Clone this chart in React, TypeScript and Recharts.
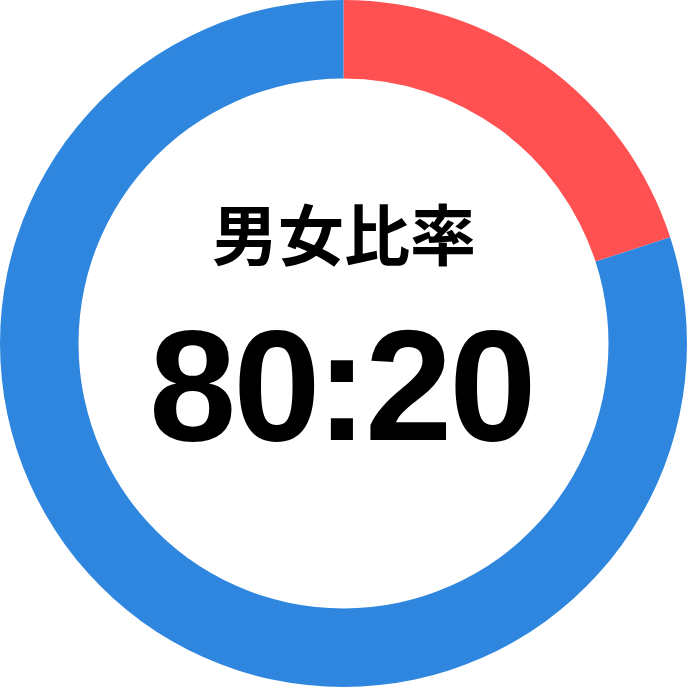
import { PieChart, Pie, Cell } from "recharts"

const labels = ["女性", "男性"]
const values = [20, 80]
const colors = ["#ff5052", "#2e86de"]
const title = "男女比率"
const ratioParts = ["80", ":", "20"]

const data = labels.map((name, i) => ({ name, value: values[i] }))

export default function App() {
  return (
    <div style={{ position: "absolute", left: 0, top: 0, width: 687, height: 687, background: "#fff" }}>
      <PieChart width={687} height={687} margin={{ top: 0, right: 0, bottom: 0, left: 0 }}>
        <Pie
          data={data}
          dataKey="value"
          cx={343.5}
          cy={343.5}
          outerRadius={343.5}
          innerRadius={265}
          startAngle={90}
          endAngle={-270}
          stroke="none"
          isAnimationActive={false}
        >
          {data.map((entry, index) => (
            <Cell key={`cell-${index}`} fill={colors[index]} />
          ))}
        </Pie>
      </PieChart>
      <svg width={687} height={687} style={{ position: "absolute", left: 0, top: 0, pointerEvents: "none" }}>
        <text
          x={344}
          y={260}
          textAnchor="middle"
          fontFamily="'Noto Sans CJK JP'"
          fontWeight={700}
          fontSize={66}
          fill="#000"
        >
          {title}
        </text>
        <text
          x={149}
          y={440}
          fontFamily="'Liberation Sans', Arial, sans-serif"
          fontWeight={700}
          fontSize={157}
          letterSpacing={-3}
          fill="#000"
        >
          <tspan>{ratioParts[0]}</tspan>
          <tspan dx={-2}>{ratioParts[1]}</tspan>
          <tspan>{ratioParts[2]}</tspan>
        </text>
      </svg>
    </div>
  )
}
